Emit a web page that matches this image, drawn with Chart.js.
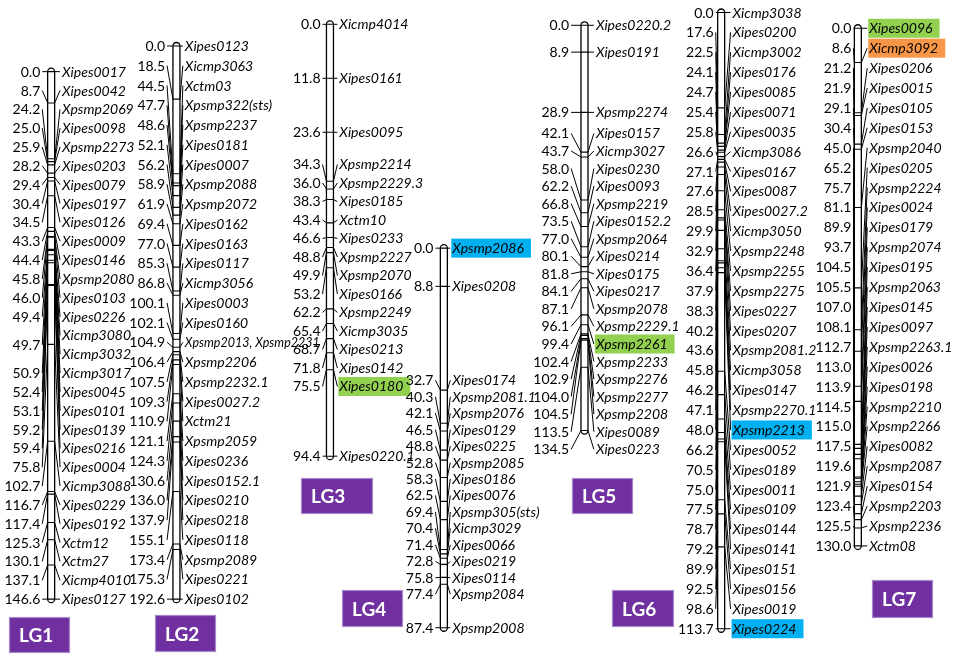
<!DOCTYPE html>
<html><head><meta charset="utf-8">
<script src="https://cdn.jsdelivr.net/npm/chart.js@4/dist/chart.umd.min.js"></script>
<style>html,body{margin:0;padding:0;background:#fff}canvas{display:block}</style>
</head><body>
<canvas id="c" width="960" height="657"></canvas>
<script>
// ---------------- DATA ----------------
const groupNames = ['LG1','LG2','LG3','LG4','LG5','LG6','LG7'];

const lg1Pos = [0.0,8.7,24.2,25.0,25.9,28.2,29.4,30.4,34.5,43.3,44.4,45.8,46.0,49.4,49.7,49.7,50.9,52.4,53.1,59.2,59.4,75.8,102.7,116.7,117.4,125.3,130.1,137.1,146.6];
const lg1Markers = ['Xipes0017','Xipes0042','Xpsmp2069','Xipes0098','Xpsmp2273','Xipes0203','Xipes0079','Xipes0197','Xipes0126','Xipes0009','Xipes0146','Xpsmp2080','Xipes0103','Xipes0226','Xicmp3080','Xicmp3032','Xicmp3017','Xipes0045','Xipes0101','Xipes0139','Xipes0216','Xipes0004','Xicmp3088','Xipes0229','Xipes0192','Xctm12','Xctm27','Xicmp4010','Xipes0127'];

const lg2Pos = [0.0,18.5,44.5,47.7,48.6,52.1,56.2,58.9,61.9,69.4,77.0,85.3,86.8,100.1,102.1,104.9,106.4,107.5,109.3,110.9,121.1,124.3,130.6,136.0,137.9,155.1,173.4,175.3,192.6];
const lg2Markers = ['Xipes0123','Xicmp3063','Xctm03','Xpsmp322(sts)','Xpsmp2237','Xipes0181','Xipes0007','Xpsmp2088','Xpsmp2072','Xipes0162','Xipes0163','Xipes0117','Xicmp3056','Xipes0003','Xipes0160','Xpsmp2013, Xpsmp2231','Xpsmp2206','Xpsmp2232.1','Xipes0027.2','Xctm21','Xpsmp2059','Xipes0236','Xipes0152.1','Xipes0210','Xipes0218','Xipes0118','Xpsmp2089','Xipes0221','Xipes0102'];

const lg3Pos = [0.0,11.8,23.6,34.3,36.0,38.3,43.4,46.6,48.8,49.9,53.2,62.2,65.4,68.7,71.8,75.5,94.4];
const lg3Markers = ['Xicmp4014','Xipes0161','Xipes0095','Xpsmp2214','Xpsmp2229.3','Xipes0185','Xctm10','Xipes0233','Xpsmp2227','Xpsmp2070','Xipes0166','Xpsmp2249','Xicmp3035','Xipes0213','Xipes0142','Xipes0180','Xipes0220.1'];

const lg4Pos = [0.0,8.8,32.7,40.3,42.1,46.5,48.8,52.8,58.3,62.5,69.4,70.4,71.4,72.8,75.8,77.4,87.4];
const lg4Markers = ['Xpsmp2086','Xipes0208','Xipes0174','Xpsmp2081.1','Xpsmp2076','Xipes0129','Xipes0225','Xpsmp2085','Xipes0186','Xipes0076','Xpsmp305(sts)','Xicmp3029','Xipes0066','Xipes0219','Xipes0114','Xpsmp2084','Xpsmp2008'];

const lg5Pos = [0.0,8.9,28.9,42.1,43.7,58.0,62.2,66.8,73.5,77.0,80.1,81.8,84.1,87.1,96.1,99.4,102.4,102.9,104.0,104.5,113.5,134.5];
const lg5Markers = ['Xipes0220.2','Xipes0191','Xpsmp2274','Xipes0157','Xicmp3027','Xipes0230','Xipes0093','Xpsmp2219','Xipes0152.2','Xpsmp2064','Xipes0214','Xipes0175','Xipes0217','Xpsmp2078','Xpsmp2229.1','Xpsmp2261','Xpsmp2233','Xpsmp2276','Xpsmp2277','Xpsmp2208','Xipes0089','Xipes0223'];

const lg6Pos = [0.0,17.6,22.5,24.1,24.7,25.4,25.8,26.6,27.1,27.6,28.5,29.9,32.9,36.4,37.9,38.3,40.2,43.6,45.8,46.2,47.1,48.0,66.2,70.5,75.0,77.5,78.7,79.2,89.9,92.5,98.6,113.7];
const lg6Markers = ['Xicmp3038','Xipes0200','Xicmp3002','Xipes0176','Xipes0085','Xipes0071','Xipes0035','Xicmp3086','Xipes0167','Xipes0087','Xipes0027.2','Xicmp3050','Xpsmp2248','Xpsmp2255','Xpsmp2275','Xipes0227','Xipes0207','Xpsmp2081.2','Xicmp3058','Xipes0147','Xpsmp2270.1','Xpsmp2213','Xipes0052','Xipes0189','Xipes0011','Xipes0109','Xipes0144','Xipes0141','Xipes0151','Xipes0156','Xipes0019','Xipes0224'];

const lg7Pos = [0.0,8.6,21.2,21.9,29.1,30.4,45.0,65.2,75.7,81.1,89.9,93.7,104.5,105.5,107.0,108.1,112.7,113.0,113.9,114.5,115.0,117.5,119.6,121.9,123.4,125.5,130.0];
const lg7Markers = ['Xipes0096','Xicmp3092','Xipes0206','Xipes0015','Xipes0105','Xipes0153','Xpsmp2040','Xipes0205','Xpsmp2224','Xipes0024','Xipes0179','Xpsmp2074','Xipes0195','Xpsmp2063','Xipes0145','Xipes0097','Xpsmp2263.1','Xipes0026','Xipes0198','Xpsmp2210','Xpsmp2266','Xipes0082','Xpsmp2087','Xipes0154','Xpsmp2203','Xpsmp2236','Xctm08'];

const highlightGreen = ['Xipes0180','Xpsmp2261','Xipes0096'];
const highlightBlue = ['Xpsmp2086','Xpsmp2213','Xipes0224'];
const highlightOrange = ['Xicmp3092'];

const positions = [lg1Pos,lg2Pos,lg3Pos,lg4Pos,lg5Pos,lg6Pos,lg7Pos];
const markers = [lg1Markers,lg2Markers,lg3Markers,lg4Markers,lg5Markers,lg6Markers,lg7Markers];

// ---------------- LAYOUT / STYLE ----------------
const W = 960, H = 657, CHROM_W = 7;
const layout = [
  {x:47,    top:68,  bottom:603, numRight:36,  nameLeft:58,  gap:19.1, mode:'even',  box:[9,617,61,36]},
  {x:173.5, top:42,  bottom:603, numRight:162, nameLeft:182, gap:20.0, mode:'even',  box:[155,615,61,37]},
  {x:328.5, top:20,  bottom:458, numRight:319, nameLeft:338, gap:18.5, mode:'push',  box:[301,478,72,36]},
  {x:443.5, top:247, bottom:632, numRight:433, nameLeft:452, gap:16.46,mode:'merge', box:[342,590,61,37]},
  {x:585.5, top:21,  bottom:432, numRight:570, nameLeft:597, gap:17.55,mode:'push',  box:[572,478,61,36]},
  {x:723.5, top:8,   bottom:633, numRight:716, nameLeft:735, gap:20.15,mode:'even',  box:[612,590,62,37]},
  {x:861.5, top:24,  bottom:549, numRight:855, nameLeft:873, gap:20.2, mode:'even',  box:[872,580,61,38]}
];
const FONT_NUM = '14px Lato';
const FONT_NAME = 'italic 14px Lato';
const FONT_NAME_SMALL = 'italic 12.5px Lato';
const FONT_LG = 'bold 19px Lato';

function highlightColor(name){
  if (highlightGreen.includes(name)) return '#92D050';
  if (highlightBlue.includes(name)) return '#00B0F0';
  if (highlightOrange.includes(name)) return '#F79646';
  return null;
}

// label spreading: clusters of colliding labels, each centred on the midpoint of
// its first/last tick; clusters found by a downward push ('push') or by
// successive merging of single labels ('merge'); 'even' spreads all labels evenly
function placeLabels(ideals, gap, mode){
  const n = ideals.length;
  if (mode === 'even'){
    const a = ideals[0], b = ideals[n-1];
    return ideals.map((_,k)=> n>1 ? a + (b-a)*k/(n-1) : a);
  }
  let groups = [];
  if (mode === 'push'){
    let prev = -Infinity;
    for (let k=0;k<n;k++){
      if (k>0 && ideals[k] < prev + gap){ groups[groups.length-1].e = k; prev = prev + gap; }
      else { groups.push({s:k,e:k}); prev = ideals[k]; }
    }
  } else {
    groups = ideals.map((_,k)=>({s:k,e:k}));
  }
  const topOf = g => (ideals[g.s]+ideals[g.e])/2 - (g.e-g.s)*gap/2;
  let changed = true;
  while (changed){
    changed = false;
    for (let k=0;k<groups.length-1;k++){
      const a = groups[k], b = groups[k+1];
      const aBottom = topOf(a) + (a.e-a.s)*gap;
      if (topOf(b) - aBottom < gap - 0.01){
        groups.splice(k,2,{s:a.s,e:b.e}); changed = true; break;
      }
    }
  }
  const out = [];
  groups.forEach(g=>{ const t = topOf(g); for (let k=g.s;k<=g.e;k++) out[k] = t + (k-g.s)*gap; });
  return out;
}

// ---------------- SCALES ----------------
const scales = { x: {type:'linear', min:0, max:W, display:false} };
positions.forEach((p,i)=>{
  const L = layout[i];
  const vmax = p[p.length-1];
  const range = vmax*H/(L.bottom-L.top);
  const min = -L.top*range/H;
  scales['y'+i] = {type:'linear', display:false, reverse:true, min:min, max:min+range};
});

// ---------------- PLUGIN ----------------
const mapPlugin = {
  id:'linkageMap',
  beforeDatasetsDraw(chart){
    const ctx = chart.ctx;
    ctx.save();
    positions.forEach((p,i)=>{
      const ys = chart.scales['y'+i];
      const xs = chart.scales.x;
      const cx = xs.getPixelForValue(layout[i].x);
      const t = ys.getPixelForValue(p[0]) - 3.5;
      const b = ys.getPixelForValue(p[p.length-1]) + 3.5;
      const r = CHROM_W/2;
      ctx.beginPath();
      ctx.moveTo(cx-r, t+r);
      ctx.arc(cx, t+r, r, Math.PI, 0);
      ctx.lineTo(cx+r, b-r);
      ctx.arc(cx, b-r, r, 0, Math.PI);
      ctx.closePath();
      ctx.fillStyle = '#fff'; ctx.fill();
      ctx.strokeStyle = '#000'; ctx.lineWidth = 1.3; ctx.stroke();
    });
    ctx.restore();
  },
  afterDatasetsDraw(chart){
    const ctx = chart.ctx;
    ctx.save();
    positions.forEach((p,i)=>{
      const L = layout[i];
      const ys = chart.scales['y'+i];
      const xs = chart.scales.x;
      const cx = xs.getPixelForValue(L.x);
      const left = cx - CHROM_W/2, right = cx + CHROM_W/2;
      const ideals = p.map(v=>ys.getPixelForValue(v));
      const labY = placeLabels(ideals, L.gap, L.mode);
      const nameX = xs.getPixelForValue(L.nameLeft);
      const numX = xs.getPixelForValue(L.numRight);
      ctx.strokeStyle = '#000'; ctx.lineWidth = 1;
      // right side: marker names
      markers[i].forEach((name,k)=>{
        ctx.beginPath();
        ctx.moveTo(right, ideals[k]);
        ctx.lineTo(nameX-2, labY[k]);
        ctx.stroke();
        ctx.font = name.includes(',') ? FONT_NAME_SMALL : FONT_NAME;
        const hc = highlightColor(name);
        if (hc){
          const w = ctx.measureText(name).width;
          ctx.fillStyle = hc;
          ctx.fillRect(nameX-1, labY[k]-9.5, w+8, 19);
        }
        ctx.fillStyle = '#000';
        ctx.textAlign = 'left'; ctx.textBaseline = 'middle';
        ctx.fillText(name, nameX, labY[k]+0.5);
      });
      // left side: positions (tied positions share one label)
      let k = 0;
      while (k < p.length){
        let e = k;
        while (e+1 < p.length && p[e+1] === p[k]) e++;
        let sy = 0; for (let j=k;j<=e;j++) sy += labY[j];
        const ly = sy/(e-k+1);
        ctx.beginPath();
        ctx.moveTo(numX+2, ly);
        ctx.lineTo(left, ideals[k]);
        ctx.stroke();
        ctx.font = FONT_NUM; ctx.fillStyle = '#000';
        ctx.textAlign = 'right'; ctx.textBaseline = 'middle';
        ctx.fillText(p[k].toFixed(1), numX, ly+0.5);
        k = e+1;
      }
      // group box
      const [bx,by,bw,bh] = L.box;
      ctx.fillStyle = '#7030A0';
      ctx.fillRect(bx,by,bw,bh);
      ctx.strokeStyle = '#A889C8'; ctx.lineWidth = 1.2;
      ctx.strokeRect(bx+0.5,by+0.5,bw-1,bh-1);
      ctx.fillStyle = '#fff'; ctx.font = FONT_LG;
      ctx.textAlign = 'left'; ctx.textBaseline = 'middle';
      ctx.fillText(groupNames[i], bx+10, by+bh/2+1);
    });
    ctx.restore();
  }
};

// ---------------- CHART ----------------
new Chart(document.getElementById('c'), {
  type:'scatter',
  data:{
    datasets: positions.map((p,i)=>({
      label: groupNames[i],
      data: p.map(v=>({x: layout[i].x, y: v})),
      xAxisID:'x', yAxisID:'y'+i,
      pointStyle:'line', pointRadius: CHROM_W/2, pointHoverRadius: CHROM_W/2,
      borderColor:'#000', backgroundColor:'#000', borderWidth:1.1
    }))
  },
  options:{
    responsive:false, animation:false, events:[],
    layout:{padding:0},
    scales: scales,
    plugins:{legend:{display:false}, tooltip:{enabled:false}}
  },
  plugins:[mapPlugin]
});
</script>
</body></html>
